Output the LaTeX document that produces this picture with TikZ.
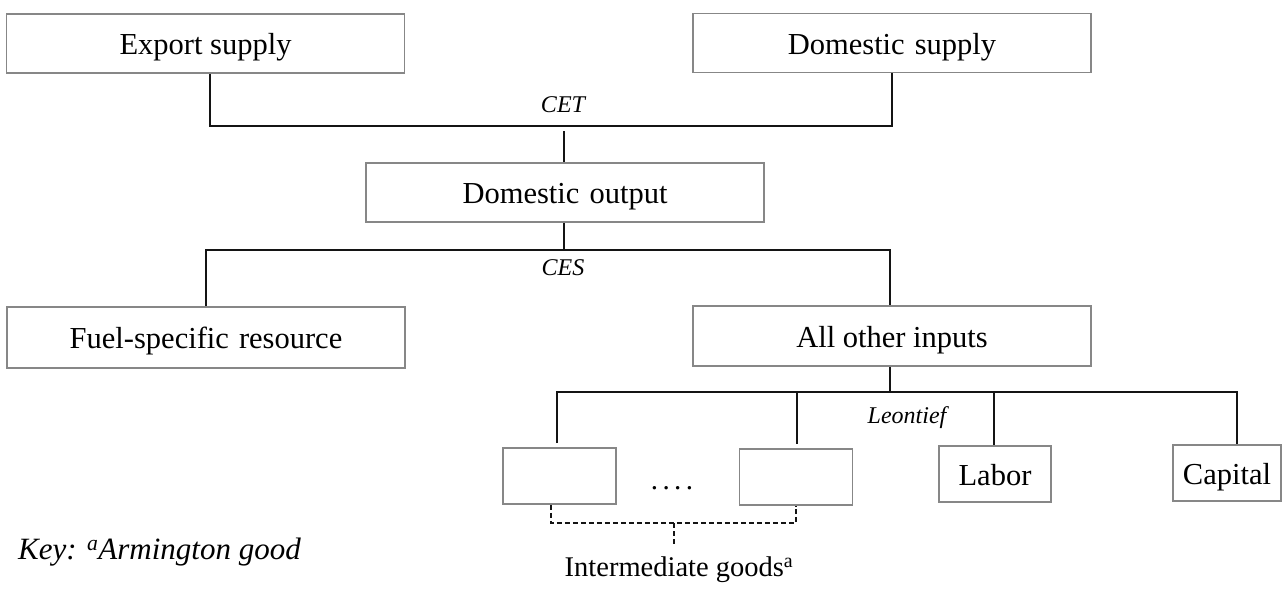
\documentclass[tikz,border=0pt]{standalone}
\usepackage{fontspec}
\setmainfont{Liberation Serif}
\usetikzlibrary{calc}
\definecolor{boxgray}{RGB}{135,135,135}
\definecolor{linek}{RGB}{20,20,20}
\newcommand{\wsp}{\hspace{0.33em}}
\begin{document}
\begin{tikzpicture}[x=1pt,y=-1pt,
  box/.style={draw=boxgray,line width=1.8pt,inner sep=0pt,font=\fontsize{30.5}{33}\selectfont,text=black,text height=22pt,text depth=0pt},
  bigbox/.style={box,minimum width=398pt,minimum height=59pt},
  smallbox/.style={box,minimum width=113pt,minimum height=56pt},
  conn/.style={draw=linek,line width=1.8pt},
  brace/.style={draw=linek,line width=1.5pt,dash pattern=on 5pt off 3pt},
  lab/.style={font=\fontsize{24}{26}\selectfont\itshape,inner sep=0pt},
  txt/.style={font=\fontsize{29}{32}\selectfont,inner sep=0pt},
 ]
\useasboundingbox (0,0) rectangle (1283,590);
% boxes
\node[bigbox] (exp)  at (205.5,43.5) {Export supply};
\node[bigbox] (dsup) at (892,43) {Domestic\wsp supply};
\node[bigbox] (dout) at (565,192.5) {Domestic\wsp output};
\node[bigbox,minimum height=61pt] (fuel) at (206,337.5) {Fuel-specific\wsp resource};
\node[bigbox,minimum height=60pt] (aoi)  at (892,336) {All other inputs};
\node[smallbox] (ig1) at (559.5,476) {};
\node[smallbox] (ig2) at (796,477) {};
\node[smallbox,minimum width=112pt] (lab) at (995,474) {Labor};
\node[smallbox,minimum width=108pt] (cap) at (1227,473) {Capital};
% labels
\node[lab] (cet) at (563,105) {CET};
\node[lab] (ces) at (563,268) {CES};
\node[lab] (leo) at (907,418) {Leontief};
\node[txt] (dots) at (672,488) {.\hspace{0.15em}.\hspace{0.15em}.\hspace{0.15em}.};
\node[txt,font=\fontsize{28.5}{31}\selectfont] (ig) at (679,570) {Intermediate goods\textsuperscript{a}};
\node[txt,anchor=west,font=\fontsize{31}{34}\selectfont\itshape] (key) at (18,552) {Key: \textsuperscript{a}Armington good};
% CET level
\coordinate (cetL) at (210,126);
\coordinate (cetR) at (892,126);
\coordinate (cetM) at (564,131);
\draw[conn] (exp.south -| cetL) -- (cetL) -- (cetR) -- (dsup.south -| cetR);
\draw[conn] (cetM) -- (cetM |- dout.north);
% CES level
\coordinate (cesL) at (206,250);
\coordinate (cesR) at (890,250);
\coordinate (cesM) at (564,250);
\draw[conn] (dout.south -| cesM) -- (cesM);
\draw[conn] (fuel.north -| cesL) -- (cesL) -- (cesR) -- (aoi.north -| cesR);
% Leontief level
\coordinate (leoL) at (557,392);
\coordinate (leoR) at (1237,392);
\coordinate (leoM) at (890,392);
\coordinate (leo2) at (797,392);
\coordinate (leo3) at (994,392);
\draw[conn] (aoi.south -| leoM) -- (leoM);
\draw[conn] ($(ig1.north -| leoL)+(0,-4)$) -- (leoL) -- (leoR) -- (cap.north -| leoR);
\draw[conn] (leo2) -- ($(ig2.north -| leo2)+(0,-4)$);
\draw[conn] (leo3) -- (lab.north -| leo3);
% bracket
\coordinate (brL) at (551,523);
\coordinate (brR) at (796,523);
\coordinate (brM) at (674,523);
\coordinate (brT) at (674,545);
\draw[brace] (ig1.south -| brL) -- (brL) -- (brR) -- (ig2.south -| brR);
\draw[brace] (brM) -- (brT);
\end{tikzpicture}
\end{document}
